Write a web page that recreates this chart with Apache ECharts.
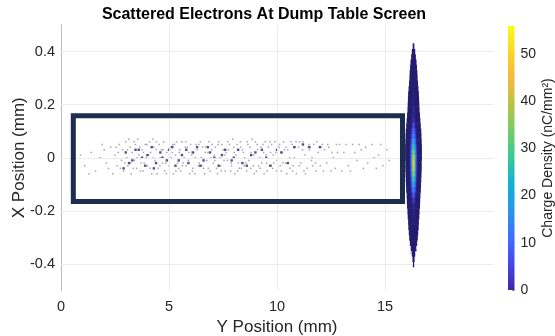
<!DOCTYPE html>
<html><head><meta charset="utf-8">
<script src="https://cdn.jsdelivr.net/npm/echarts@6/dist/echarts.min.js"></script>
<style>html,body{margin:0;padding:0;background:#fff}#c{width:555px;height:336px}</style>
</head><body><div id="c"></div>
<script>
// ---- tick labels ----
const xTickValues = [0, 5, 10, 15];
const yTickValues = [-0.4, -0.2, 0, 0.2, 0.4];
const xGridValues = [5, 10, 15];
const yGridValues = [-0.4, -0.2, 0, 0.2, 0.4];
const colorbarTicks = [0, 10, 20, 30, 40, 50];
const colorMax = 55.9;

// ---- scattered electrons: [Y position mm, X position mm] ----
const lightPoints = [
[0.9,0.01],[1.1,-0.03],[1.4,0.02],[1.6,-0.05],[1.8,0.00],[2.0,0.03],[2.1,-0.02],[2.3,0.04],[2.4,-0.06],[2.5,0.01],[2.6,-0.03],[2.7,0.05],
[2.8,-0.01],[2.85,0.03],[2.9,-0.05],[3.0,0.06],[3.05,0.00],[3.1,-0.03],[3.2,0.04],[3.25,-0.06],[3.3,0.02],[3.4,-0.01],[3.45,0.05],[3.5,-0.04],
[3.55,0.07],[3.6,0.01],[3.7,-0.02],[3.75,0.03],[3.8,-0.05],[3.9,0.05],[3.95,0.00],[4.0,-0.03],[4.1,0.06],[4.15,0.02],[4.2,-0.06],[4.3,0.04],
[4.35,-0.01],[4.4,0.03],[4.5,-0.04],[4.55,0.05],[4.6,0.00],[4.7,-0.02],[4.75,0.06],[4.8,-0.05],[4.9,0.02],[5.0,-0.03],[5.05,0.04],[5.1,0.00],
[5.2,-0.06],[5.25,0.05],[5.3,0.01],[5.4,-0.02],[5.5,0.03],[5.55,-0.05],[5.6,0.06],[5.7,0.00],[5.8,-0.03],[5.85,0.04],[5.9,-0.01],[6.0,0.05],
[6.1,-0.04],[6.15,0.02],[6.2,-0.06],[6.3,0.03],[6.4,-0.02],[6.45,0.06],[6.5,0.00],[6.6,-0.04],[6.7,0.04],[6.75,-0.01],[6.8,0.02],[6.9,-0.05],
[7.0,0.05],[7.05,-0.02],[7.1,0.01],[7.2,-0.04],[7.3,0.06],[7.35,0.00],[7.4,-0.03],[7.5,0.03],[7.6,-0.05],[7.65,0.02],[7.7,-0.01],[7.8,0.05],
[7.9,-0.03],[8.0,0.04],[8.05,-0.06],[8.1,0.01],[8.2,-0.02],[8.3,0.06],[8.35,-0.04],[8.4,0.03],[8.5,0.00],[8.6,-0.05],[8.65,0.05],[8.7,-0.01],
[8.8,0.02],[8.9,-0.03],[9.0,0.06],[9.05,-0.05],[9.1,0.03],[9.2,0.00],[9.3,-0.02],[9.35,0.05],[9.4,-0.06],[9.5,0.01],[9.6,0.04],[9.65,-0.03],
[9.7,0.02],[9.8,-0.04],[9.9,0.06],[10.0,-0.01],[10.1,0.04],[10.2,-0.05],[10.25,0.02],[10.3,0.06],[10.4,-0.02],[10.5,0.03],[10.6,-0.04],[10.7,0.05],
[10.8,0.00],[10.9,-0.06],[11.0,0.04],[11.1,-0.02],[11.2,0.06],[11.3,0.01],[11.4,-0.04],[11.5,0.03],[11.6,-0.01],[11.7,0.05],[11.8,-0.05],[11.9,0.02],
[12.0,-0.03],[12.1,0.05],[12.3,-0.02],[12.4,0.04],[12.6,0.00],[12.7,-0.04],[12.9,0.05],[13.1,0.02],[13.3,-0.03],[13.5,0.05],[13.7,-0.01],[13.9,0.03],
[14.2,-0.02],[14.4,0.05],[14.7,0.01],[14.9,-0.03],[15.1,0.03],
[2.65,0.02],[2.95,-0.02],[3.15,0.07],[3.35,-0.04],[3.65,0.04],[3.85,-0.02],[4.05,0.01],[4.25,0.07],[4.45,-0.06],[4.65,0.03],[4.85,-0.02],[5.15,0.02],
[5.35,0.06],[5.45,-0.04],[5.65,-0.02],[5.75,0.04],[5.95,-0.06],[6.05,0.01],[6.25,0.05],[6.35,-0.03],[6.55,0.04],[6.65,-0.06],[6.85,0.06],[6.95,0.00],
[7.15,0.04],[7.25,-0.06],[7.45,0.05],[7.55,-0.01],[7.75,0.03],[7.85,-0.05],[7.95,0.07],[8.15,0.05],[8.25,-0.04],[8.45,0.02],[8.55,-0.02],[8.75,0.04],
[8.85,0.07],[8.95,-0.06],[9.15,-0.03],[9.25,0.04],[9.45,0.06],[9.55,-0.05],[9.75,0.05],[9.85,-0.02],[9.95,0.02],[10.15,-0.03],[10.35,0.03],[10.45,-0.06],
[10.65,0.06],[10.75,-0.03],[10.85,0.04],[11.05,0.06],[11.25,-0.05],[11.45,0.04],[11.65,-0.03],[11.85,0.06],[12.2,0.03],[12.5,-0.05],[12.8,0.02],[13.0,-0.05],
[13.6,0.02],[14.0,-0.04],[14.5,0.00],
[2.55,0.04],[2.75,-0.04],[3.08,0.03],[3.22,-0.02],[3.38,0.06],[3.52,0.00],[3.68,-0.05],[3.82,0.02],[3.98,0.05],[4.12,-0.04],[4.28,0.00],[4.42,0.06],
[4.58,-0.03],[4.72,0.03],[4.88,-0.06],[5.02,0.01],[5.18,0.05],[5.32,-0.05],[5.48,0.02],[5.62,-0.03],[5.78,0.06],[5.92,0.02],[6.08,-0.05],[6.22,0.00],
[6.38,0.05],[6.52,-0.03],[6.68,0.02],[6.82,-0.04],[6.98,0.03],[7.12,-0.01],[7.28,0.05],[7.42,-0.05],[7.58,0.01],[7.72,0.06],[7.88,-0.02],[8.02,0.02],
[8.18,-0.05],[8.32,0.04],[8.48,-0.03],[8.62,0.06],[8.78,-0.04],[8.92,0.01],[9.08,0.05],[9.22,-0.04],[9.38,0.02],[9.52,-0.02],[9.68,0.06],[9.82,0.01],
[9.98,-0.05],[10.12,0.05],[10.28,-0.02],[10.42,0.04],[10.58,0.00],[10.72,-0.05],[10.88,0.06],[11.02,-0.03],[11.18,0.03],[11.32,-0.06],[11.48,0.05],
[11.62,0.00],[11.78,-0.02],[11.95,0.04],[12.15,-0.05],[12.35,0.05],[12.55,0.02],[12.75,0.05],[13.2,0.05],[13.4,-0.05],[13.8,0.05],[14.1,0.04],
[14.6,-0.04],[14.8,0.05],[15.2,-0.01],[1.3,-0.06],[1.9,0.05],[2.2,-0.04],
[16.32,0.43],[16.32,-0.37],[16.32,-0.39],[16.32,-0.41],[16.2,-0.36],[16.45,-0.35]
];
const darkPoints = [
[3.0,0.02],[3.3,-0.01],[3.6,0.03],[3.9,-0.03],[4.0,0.01],[4.4,-0.02],[4.7,0.00],[5.0,0.03],[5.3,-0.03],[5.6,0.01],[5.9,-0.02],[6.3,0.04],
[6.6,-0.01],[6.9,0.02],[7.3,-0.03],[7.6,0.03],[8.0,0.00],[8.4,-0.02],[8.8,0.01],[9.3,0.03],[9.7,-0.03],[10.2,0.02],[10.8,0.04],[11.5,0.04],
[4.2,0.04],[5.8,0.03],[7.9,-0.01],
[3.15,-0.02],[3.45,0.03],[3.75,0.00],[4.3,-0.04],[4.6,0.02],[4.9,-0.01],[5.15,0.04],[5.45,-0.01],[6.1,0.02],[6.45,-0.03],[6.8,0.04],
[7.1,0.00],[7.45,0.01],[8.2,0.03],[8.6,-0.03],[9.0,0.02],[9.5,0.00],[10.0,0.03],[10.5,-0.02],[11.2,0.05],[12.0,0.04],[2.9,-0.04]
];

// ---- main beam spot: one row per X position ----
const blobCenterY = 16.32;
const blobRowStep = 0.02;
const blobRowX = [0.42,0.40,0.38,0.36,0.34,0.32,0.30,0.28,0.26,0.24,0.22,0.20,0.18,0.16,0.14,0.12,0.10,0.08,0.06,0.04,0.02,0.00,
  -0.02,-0.04,-0.06,-0.08,-0.10,-0.12,-0.14,-0.16,-0.18,-0.20,-0.22,-0.24,-0.26,-0.28,-0.30,-0.32,-0.34,-0.36,-0.38,-0.40];
const blobHalfWidth = [0.04,0.08,0.11,0.14,0.16,0.18,0.19,0.21,0.23,0.25,0.26,0.27,0.28,0.30,0.32,0.34,0.36,0.37,0.38,0.39,0.39,0.39,
  0.38,0.38,0.37,0.36,0.35,0.34,0.32,0.31,0.30,0.28,0.27,0.25,0.24,0.22,0.20,0.17,0.13,0.08,0.05,0.03];
const blobPeak = [1,1,1,1,1,1,1,1.5,1.5,2,2,2,3,3,4,6,10,14,20,28,36,44,
  48,45,38,30,22,14,8,5,3,2,2,1.5,1,1,1,1,1,1,1,1];

// ---- screen box ----
const boxY = [0.57, 15.81];
const boxX = [-0.165, 0.158];

// ---- colour map (parula) ----
const parulaStops = [
  [0.0,[62,38,168]],[0.1,[71,71,235]],[0.2,[62,111,255]],[0.3,[39,150,235]],[0.4,[18,177,214]],
  [0.5,[55,200,151]],[0.6,[113,205,105]],[0.7,[183,196,66]],[0.8,[243,186,61]],[0.9,[247,214,40]],[1.0,[249,251,21]]
];
function parula(t){
  t = Math.max(0, Math.min(1, t));
  for (let i=1;i<parulaStops.length;i++){
    if (t <= parulaStops[i][0]){
      const a=parulaStops[i-1], b=parulaStops[i];
      const f=(t-a[0])/(b[0]-a[0]);
      const c=a[1].map((v,k)=>Math.round(v+(b[1][k]-v)*f));
      return 'rgb('+c.join(',')+')';
    }
  }
  return 'rgb(249,251,21)';
}
const blobEdge = [30,25,96];
function blobColor(v){
  if (v < 6){
    const f = v/6;
    const p = parula(v/colorMax).match(/\d+/g).map(Number);
    const c = blobEdge.map((e,k)=>Math.round(e+(p[k]-e)*f));
    return 'rgb('+c.join(',')+')';
  }
  return parula(v/colorMax);
}

const FONT = '"Liberation Sans", Arial, Helvetica, sans-serif';
const TXT = '#262626';
const chart = echarts.init(document.getElementById('c'), null, {renderer:'canvas'});

const blobData = blobRowX.map((x,i)=>[x, blobHalfWidth[i], blobPeak[i]]);

const option = {
  animation: false,
  backgroundColor: '#ffffff',
  title: {
    text: 'Scattered Electrons At Dump Table Screen',
    left: 259, top: 2, textAlign: 'center',
    textStyle: {fontFamily: FONT, fontSize: 16, fontWeight: 'bold', color: '#000'}
  },
  grid: [
    {left: 61, top: 25, width: 432, height: 265.5, containLabel: false, outerBoundsMode: 'none'},
    {left: 508, top: 26, width: 6.5, height: 264, containLabel: false, outerBoundsMode: 'none'}
  ],
  xAxis: [
    {
      gridIndex: 0, type: 'value', min: 0, max: 20,
      name: 'Y Position (mm)', nameLocation: 'middle', nameGap: 28, nameMoveOverlap: false,
      nameTextStyle: {fontFamily: FONT, fontSize: 17, color: TXT},
      axisLine: {show: true, lineStyle: {color: '#bcbcbc', width: 1}},
      axisTick: {show: true, inside: true, length: 3, customValues: xTickValues, lineStyle: {color: '#bcbcbc'}},
      axisLabel: {customValues: xTickValues, fontFamily: FONT, fontSize: 14.5, color: TXT, margin: 9},
      splitLine: {show: false}
    },
    {
      gridIndex: 1, type: 'category', data: [''], show: false
    }
  ],
  yAxis: [
    {
      gridIndex: 0, type: 'value', min: -0.5, max: 0.5,
      name: 'X Position (mm)', nameLocation: 'middle', nameGap: 33, nameRotate: 90, nameMoveOverlap: false,
      nameTextStyle: {fontFamily: FONT, fontSize: 17, color: TXT},
      axisLine: {show: true, lineStyle: {color: '#bcbcbc', width: 1}},
      axisTick: {show: true, inside: true, length: 3, customValues: yTickValues, lineStyle: {color: '#bcbcbc'}},
      axisLabel: {customValues: yTickValues, fontFamily: FONT, fontSize: 14.5, color: TXT, margin: 6,
        formatter: v => (Math.abs(v) < 1e-9 ? '0' : String(Math.round(v*10)/10))},
      splitLine: {show: false}
    },
    {
      gridIndex: 1, type: 'value', min: 0, max: colorMax, position: 'right',
      name: 'Charge Density (nC/mm²)', nameLocation: 'middle', nameGap: 27, nameRotate: 90, nameMoveOverlap: false,
      nameTextStyle: {fontFamily: FONT, fontSize: 14, color: TXT},
      axisLine: {show: false},
      axisTick: {show: true, inside: true, length: 2, customValues: colorbarTicks, lineStyle: {color: '#666'}},
      axisLabel: {customValues: colorbarTicks, fontFamily: FONT, fontSize: 14, color: TXT, margin: 6},
      splitLine: {show: false}
    }
  ],
  series: [
    {
      type: 'line', xAxisIndex: 0, yAxisIndex: 0, data: [], silent: true, z: 1,
      markLine: {
        silent: true, symbol: 'none', animation: false,
        label: {show: false},
        lineStyle: {color: '#ebebeb', width: 1, type: 'solid'},
        data: xGridValues.map(v=>({xAxis: v})).concat(yGridValues.map(v=>({yAxis: v})))
      }
    },
    {
      type: 'scatter', xAxisIndex: 0, yAxisIndex: 0, z: 3,
      symbol: 'rect', symbolSize: 1.5, data: lightPoints,
      itemStyle: {color: '#8f8fa0'}, silent: true
    },
    {
      type: 'scatter', xAxisIndex: 0, yAxisIndex: 0, z: 4,
      symbol: 'rect', symbolSize: 2.4, data: darkPoints,
      itemStyle: {color: '#2a2566'}, silent: true
    },
    {
      type: 'custom', xAxisIndex: 0, yAxisIndex: 0, z: 5, silent: true,
      data: blobData,
      renderItem: function(params, api){
        const x = api.value(0), hw = api.value(1), peak = api.value(2);
        const p0 = api.coord([blobCenterY - hw, x + blobRowStep/2]);
        const p1 = api.coord([blobCenterY + hw, x - blobRowStep/2]);
        const stops = [];
        for (let i=0;i<=24;i++){
          const o=i/24, d=(o-0.5)/0.12;
          const v = 1 + (peak-1)*Math.exp(-d*d);
          stops.push({offset:o, color: blobColor(v)});
        }
        return {type:'rect', shape:{x:p0[0], y:p0[1], width:p1[0]-p0[0], height:p1[1]-p0[1]+0.6},
          style:{fill: new echarts.graphic.LinearGradient(0,0,1,0,stops)}};
      }
    },
    {
      type: 'custom', xAxisIndex: 0, yAxisIndex: 0, z: 6, silent: true,
      data: [[boxY[0], boxX[1], boxY[1], boxX[0]]],
      renderItem: function(params, api){
        const a = api.coord([api.value(0), api.value(1)]);
        const b = api.coord([api.value(2), api.value(3)]);
        return {type:'rect', shape:{x:a[0], y:a[1], width:b[0]-a[0], height:b[1]-a[1]},
          style:{fill:null, stroke:'#1c2d4f', lineWidth:5, lineJoin:'miter'}};
      }
    },
    {
      type: 'bar', xAxisIndex: 1, yAxisIndex: 1, data: [colorMax], barWidth: '100%', silent: true,
      itemStyle: {color: new echarts.graphic.LinearGradient(0,1,0,0,
        parulaStops.map(s=>({offset:s[0], color: parula(s[0])})))}
    }
  ]
};
chart.setOption(option);
</script>
</body></html>
